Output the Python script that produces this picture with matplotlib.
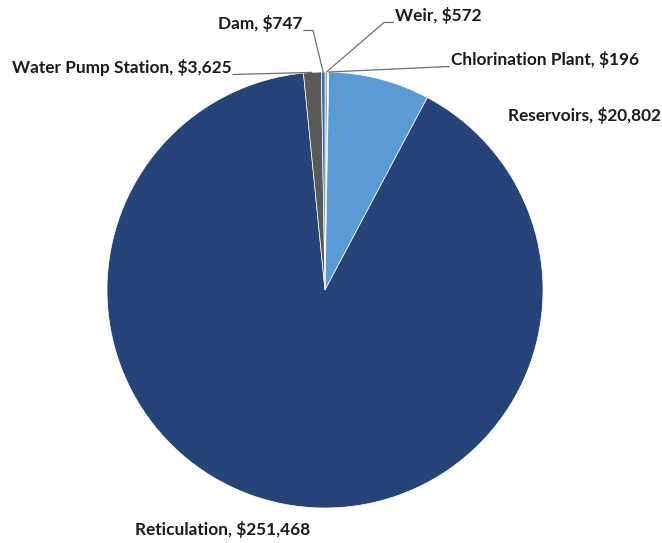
import numpy as np
import matplotlib.pyplot as plt

# data (clockwise from 12 o'clock)
categories = ['Weir', 'Chlorination Plant', 'Reservoirs', 'Reticulation', 'Water Pump Station', 'Dam']
values = [572, 196, 20802, 251468, 3625, 747]
colors = ['#A5A5A5', '#D0D0D0', '#5B9BD5', '#264478', '#595959', '#2E75B6']

W, H = 662, 543
cx, cy, r = 325, H - 290, 218

# label layout: text anchor (x, y in px from top), ha, leader elbow x (None = no leader)
label_pos = {
    'Weir': (395, 16, 'left', 384),
    'Chlorination Plant': (451, 60, 'left', 449),
    'Reservoirs': (508, 116, 'left', None),
    'Reticulation': (135, 529, 'left', None),
    'Water Pump Station': (12, 68, 'left', 233),
    'Dam': (218, 24, 'left', 313),
}

plt.rcParams['font.family'] = ['Lato', 'DejaVu Sans']

fig = plt.figure(figsize=(W / 100, H / 100), dpi=100)
ax = fig.add_axes([0, 0, 1, 1])
wedges, _ = ax.pie(values, colors=colors, startangle=90, counterclock=False,
                   center=(cx, cy), radius=r,
                   wedgeprops=dict(linewidth=0.5, edgecolor='white'))
ax.set_xlim(0, W)
ax.set_ylim(0, H)
ax.set_aspect('equal')
ax.axis('off')

for w, name, v in zip(wedges, categories, values):
    tx, ty, ha, elbow = label_pos[name]
    ty = H - ty
    txt = ax.text(tx, ty, f'{name}, ${v:,}', ha=ha, va='center',
                  fontsize=12.4, fontweight='bold', color='#1a1a1a')
    if elbow is None:
        continue
    ang = np.deg2rad((w.theta1 + w.theta2) / 2)
    px = cx + r * np.cos(ang)
    py = cy + r * np.sin(ang)
    fig.canvas.draw()
    bb = txt.get_window_extent().transformed(ax.transData.inverted())
    ly = bb.y0 + 2
    if elbow < tx:
        x0 = bb.x0 - 1
    else:
        x0 = bb.x1 + 1
    ax.plot([x0, elbow, px], [ly, ly, py], color='#6F6F6F', lw=0.9,
            solid_capstyle='butt')

fig.savefig('out.png', dpi=100)
